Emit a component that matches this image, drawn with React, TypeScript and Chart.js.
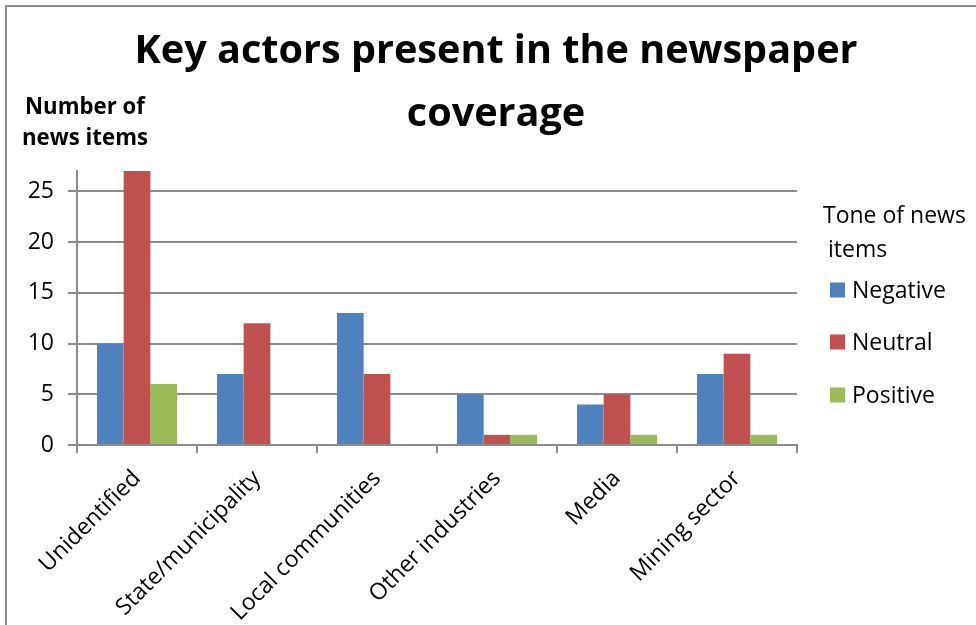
import React, { useEffect, useRef } from "react";
import { Chart, registerables } from "chart.js";

Chart.register(...registerables);

const categories = [
  "Unidentified",
  "State/municipality",
  "Local communities",
  "Other industries",
  "Media",
  "Mining sector",
];
const negative = [10, 7, 13, 5, 4, 7];
const neutral = [27, 12, 7, 1, 5, 9];
const positive = [6, 0, 0, 1, 1, 1];
const seriesNames = ["Negative", "Neutral", "Positive"];
const seriesColors = ["#4F81BD", "#C0504D", "#9BBB59"];
const titleLines = ["Key actors present in the newspaper", "coverage"];
const yTitleLines = ["Number of", "news items"];
const legendTitleLines = ["Tone of news", "items"];

const FONT = "'Open Sans', 'DejaVu Sans', sans-serif";

function drawFitted(ctx: CanvasRenderingContext2D, text: string, x: number, y: number, sx: number) {
  ctx.save();
  ctx.translate(x, y);
  ctx.scale(sx, 1);
  ctx.fillText(text, 0, 0);
  ctx.restore();
}

const overlayPlugin = {
  id: "overlayText",
  afterDraw(chart: any) {
    const ctx: CanvasRenderingContext2D = chart.ctx;
    ctx.save();
    ctx.fillStyle = "#000";
    ctx.textBaseline = "alphabetic";

    // Main title
    ctx.font = `bold 40px ${FONT}`;
    ctx.textAlign = "center";
    const w1 = ctx.measureText(titleLines[0]).width;
    const s1 = Math.min(1, 723 / w1);
    drawFitted(ctx, titleLines[0], 496, 63, s1);
    drawFitted(ctx, titleLines[1], 496, 126, s1);

    // Y axis title
    ctx.font = `bold 23px ${FONT}`;
    const wy = ctx.measureText(yTitleLines[1]).width;
    const sy = Math.min(1, 126 / wy);
    drawFitted(ctx, yTitleLines[0], 85, 114, sy);
    drawFitted(ctx, yTitleLines[1], 85, 145, sy);

    // Legend
    ctx.textAlign = "left";
    ctx.font = `23px ${FONT}`;
    ctx.fillText(legendTitleLines[0], 823, 223);
    ctx.fillText(legendTitleLines[1], 828, 257);
    const ys = [290, 342, 395];
    chart.data.datasets.forEach((ds: any, i: number) => {
      ctx.fillStyle = ds.backgroundColor;
      ctx.fillRect(830, ys[i] - 7.5, 15, 15);
      ctx.fillStyle = "#000";
      ctx.fillText(ds.label, 852, ys[i] + 8);
    });
    ctx.restore();
  },
};

export default function App() {
  const canvasRef = useRef<HTMLCanvasElement | null>(null);

  useEffect(() => {
    if (!canvasRef.current) return;
    const gridColor = "#8c8c8c";
    const chart = new Chart(canvasRef.current, {
      type: "bar",
      data: {
        labels: categories,
        datasets: [negative, neutral, positive].map((d, i) => ({
          label: seriesNames[i],
          data: d,
          backgroundColor: seriesColors[i],
          borderWidth: 0,
          categoryPercentage: 0.667,
          barPercentage: 1.0,
        })),
      },
      options: {
        responsive: false,
        animation: false,
        devicePixelRatio: 1,
        layout: { padding: { top: 171, right: 179, left: 0, bottom: 0 } },
        plugins: {
          legend: { display: false },
          title: { display: false },
          tooltip: { enabled: false },
        },
        scales: {
          x: {
            grid: {
              drawOnChartArea: false,
              drawTicks: true,
              tickLength: 8,
              color: gridColor,
              lineWidth: 2,
              offset: true,
            },
            border: { color: gridColor, width: 2 },
            ticks: {
              color: "#000",
              font: { family: FONT, size: 23 },
              minRotation: 45,
              maxRotation: 45,
              autoSkip: false,
              padding: 12,
            },
            afterFit: (s: any) => {
              s.height = 180;
            },
          },
          y: {
            min: 0,
            max: 27,
            ticks: {
              stepSize: 5,
              includeBounds: false,
              color: "#000",
              font: { family: FONT, size: 23 },
              padding: 14,
            },
            grid: { color: gridColor, lineWidth: 2, tickLength: 9 },
            border: { color: gridColor, width: 2 },
            afterFit: (s: any) => {
              s.width = 77;
            },
          },
        },
      },
      plugins: [overlayPlugin],
    } as any);
    return () => chart.destroy();
  }, []);

  return (
    <div style={{ position: "fixed", left: 0, top: 0, width: 976, height: 625, background: "#fff" }}>
      <canvas ref={canvasRef} width={976} height={625} style={{ display: "block", width: 976, height: 625 }} />
      <div
        style={{
          position: "absolute",
          left: 5,
          top: 5,
          right: 0,
          bottom: 0,
          borderLeft: "2px solid #8c8c8c",
          borderTop: "2px solid #8c8c8c",
          pointerEvents: "none",
        }}
      />
    </div>
  );
}
